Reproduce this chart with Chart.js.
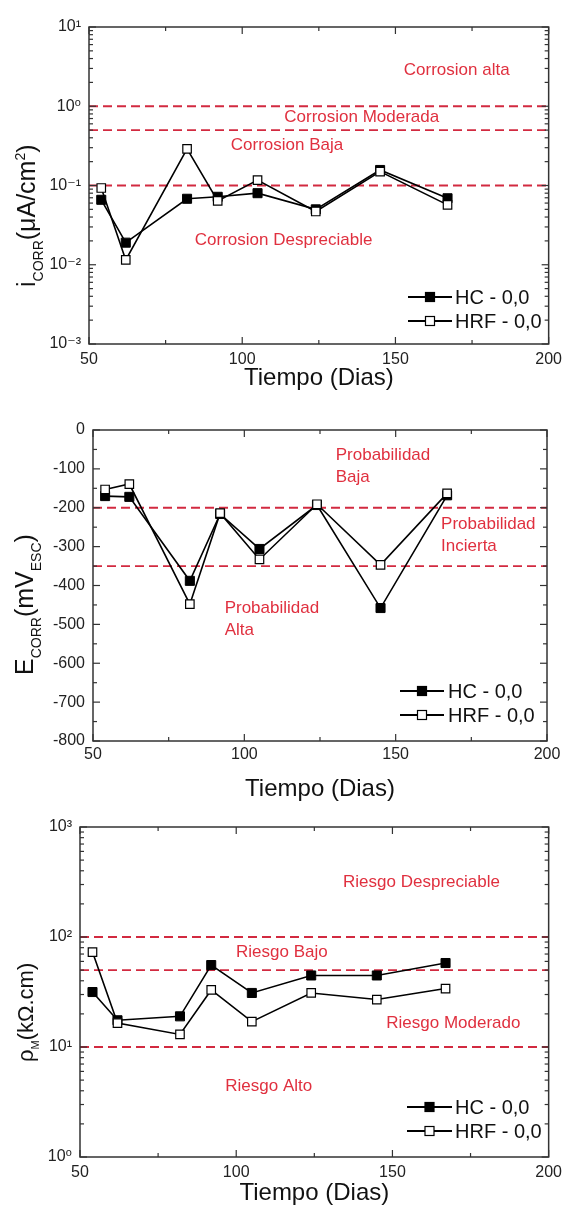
<!DOCTYPE html>
<html>
<head>
<meta charset="utf-8">
<script src="https://cdn.jsdelivr.net/npm/chart.js@4.4.0/dist/chart.umd.min.js"></script>
<style>
html, body { margin: 0; padding: 0; background: #fff; }
body { width: 568px; height: 1205px; position: relative; overflow: hidden; }
canvas { position: absolute; left: 0; }
</style>
</head>
<body>
<canvas id="icorr" width="568" height="400" style="top:0px"></canvas>
<canvas id="ecorr" width="568" height="405" style="top:400px"></canvas>
<canvas id="rho" width="568" height="400" style="top:805px"></canvas>
<script>
// tiempo de exposicion (dias)
var dias = [54, 62, 82, 92, 105, 124, 145, 167];
var series = ['HC - 0,0', 'HRF - 0,0'];

// densidad de corriente de corrosion (uA/cm2)
var icorrHC  = [0.066, 0.019, 0.068, 0.072, 0.080, 0.050, 0.157, 0.069];
var icorrHRF = [0.093, 0.0115, 0.29, 0.064, 0.117, 0.047, 0.150, 0.057];

// potencial de corrosion (mV ESC)
var ecorrHC  = [-170, -172, -388, -216, -306, -193, -458, -168];
var ecorrHRF = [-153, -139, -448, -214, -333, -191, -347, -163];

// resistividad (kOhm.cm)
var rhoHC  = [31.6, 17.5, 19, 55.6, 31, 44.7, 44.7, 58];
var rhoHRF = [73, 16.5, 13, 33, 17, 31, 27, 34];

var xTicks = [50, 100, 150, 200];
var xMinor = [75, 125, 175];
var icorrTicks = [0.001, 0.01, 0.1, 1, 10];
var ecorrTicks = [0, -100, -200, -300, -400, -500, -600, -700, -800];
var ecorrMinor = [-50, -150, -250, -350, -450, -550, -650, -750];
var rhoTicks = [1, 10, 100, 1000];

var icorrLimits = [1, 0.5, 0.1];
var ecorrLimits = [-200, -350];
var rhoLimits = [100, 50, 10];

var icorrZones = ['Corrosion alta', 'Corrosion Moderada', 'Corrosion Baja', 'Corrosion Despreciable'];
var ecorrZones = [['Probabilidad', 'Baja'], ['Probabilidad', 'Incierta'], ['Probabilidad', 'Alta']];
var rhoZones = ['Riesgo Despreciable', 'Riesgo Bajo', 'Riesgo Moderado', 'Riesgo Alto'];

var FONT = "'Liberation Sans', Arial, 'DejaVu Sans', sans-serif";
var RED_LINE = '#d22a40';
var RED_TEXT = '#e0303f';
Chart.defaults.font.family = FONT;

var SUP = {'0': '⁰', '1': '¹', '2': '²', '3': '³', '-': '⁻'};
function pow10(v) {
    var e = String(Math.round(Math.log10(v)));
    return '10' + e.split('').map(function (c) { return SUP[c]; }).join('');
}
function logMinor(ticks) {
    var out = [];
    for (var i = 0; i < ticks.length - 1; i++)
        for (var k = 2; k < 10; k++) out.push(ticks[i] * k);
    return out;
}

function drawRich(ctx, x, y, parts) {
    ctx.save();
    ctx.translate(x, y);
    ctx.rotate(-Math.PI / 2);
    ctx.textAlign = 'left';
    ctx.textBaseline = 'alphabetic';
    ctx.fillStyle = '#111';
    var cx = 0;
    parts.forEach(function (p) {
        ctx.font = p[1] + 'px ' + FONT;
        ctx.fillText(p[0], cx, p[2] || 0);
        cx += ctx.measureText(p[0]).width;
    });
    ctx.restore();
}

function makeChart(id, c) {
    var canvas = document.getElementById(id);
    var H = canvas.height;

    var datasets = [
        {
            label: series[0],
            data: dias.map(function (d, i) { return {x: d, y: c.hc[i]}; }),
            borderColor: '#000', borderWidth: 1.6,
            pointStyle: 'rect', pointRadius: 6.4, pointBorderWidth: 1,
            pointBackgroundColor: '#000', pointBorderColor: '#000',
            order: 1
        },
        {
            label: series[1],
            data: dias.map(function (d, i) { return {x: d, y: c.hrf[i]}; }),
            borderColor: '#000', borderWidth: 1.6,
            pointStyle: 'rect', pointRadius: 6, pointBorderWidth: 1.2,
            pointBackgroundColor: '#fff', pointBorderColor: '#000',
            order: 0
        }
    ];
    c.limits.forEach(function (v) {
        datasets.push({
            label: 'limite',
            data: [{x: 50, y: v}, {x: 200, y: v}],
            borderColor: RED_LINE, borderWidth: 1.8, borderDash: [9, 5],
            pointRadius: 0, order: 2
        });
    });

    var extras = {
        id: 'extras_' + id,
        beforeDatasetsDraw: function (chart) {
            var ctx = chart.ctx, xs = chart.scales.x, ys = chart.scales.y;
            ctx.save();
            ctx.fillStyle = RED_TEXT;
            ctx.font = '17px ' + FONT;
            ctx.textBaseline = 'middle';
            c.zones.forEach(function (z) {
                ctx.textAlign = z.align || 'center';
                var px = xs.getPixelForValue(z.x), py = ys.getPixelForValue(z.y);
                var lines = [].concat(z.text);
                lines.forEach(function (t, k) { ctx.fillText(t, px, py + k * 22); });
            });
            ctx.restore();
        },
        afterDraw: function (chart) {
            var ctx = chart.ctx, a = chart.chartArea, xs = chart.scales.x, ys = chart.scales.y;
            ctx.save();
            // marco y marcas interiores
            ctx.strokeStyle = '#333';
            ctx.lineWidth = 1.5;
            ctx.strokeRect(a.left, a.top, a.right - a.left, a.bottom - a.top);
            function seg(x1, y1, x2, y2) { ctx.beginPath(); ctx.moveTo(x1, y1); ctx.lineTo(x2, y2); ctx.stroke(); }
            ctx.lineWidth = 1.2;
            xTicks.forEach(function (v) { var p = xs.getPixelForValue(v); seg(p, a.bottom, p, a.bottom - 7); seg(p, a.top, p, a.top + 7); });
            xMinor.forEach(function (v) { var p = xs.getPixelForValue(v); seg(p, a.bottom, p, a.bottom - 4); seg(p, a.top, p, a.top + 4); });
            c.majors.forEach(function (v) { var p = ys.getPixelForValue(v); seg(a.left, p, a.left + 7, p); seg(a.right, p, a.right - 7, p); });
            c.minors.forEach(function (v) { var p = ys.getPixelForValue(v); seg(a.left, p, a.left + 4, p); seg(a.right, p, a.right - 4, p); });

            // leyenda
            var L = c.legend;
            [0, 1].forEach(function (i) {
                var y = L.y[i], mx = (L.x1 + L.x2) / 2, s = 9;
                ctx.strokeStyle = '#000';
                ctx.lineWidth = 2;
                seg(L.x1, y, L.x2, y);
                ctx.fillStyle = i === 0 ? '#000' : '#fff';
                ctx.fillRect(mx - s / 2, y - s / 2, s, s);
                ctx.lineWidth = 1.2;
                ctx.strokeRect(mx - s / 2, y - s / 2, s, s);
                ctx.fillStyle = '#111';
                ctx.font = '20px ' + FONT;
                ctx.textAlign = 'left';
                ctx.textBaseline = 'middle';
                ctx.fillText(chart.data.datasets[i].label, L.tx, y + 1);
            });
            ctx.restore();

            // titulo del eje y
            drawRich(ctx, c.ytitle.x, c.ytitle.y, c.ytitle.parts);
        }
    };

    return new Chart(canvas, {
        type: 'line',
        data: {datasets: datasets},
        options: {
            responsive: false,
            animation: false,
            events: [],
            layout: {padding: {top: c.plot.top, right: 568 - c.plot.right, left: 0, bottom: 0}},
            plugins: {legend: {display: false}, tooltip: {enabled: false}},
            scales: {
                x: {
                    type: 'linear', min: 50, max: 200,
                    afterBuildTicks: function (s) { s.ticks = xTicks.map(function (v) { return {value: v}; }); },
                    afterFit: function (s) { s.height = H - c.plot.bottom; },
                    grid: {display: false, drawTicks: false},
                    border: {display: false},
                    ticks: {color: '#222', font: {size: 16}, padding: c.xPad, maxRotation: 0, autoSkip: false},
                    title: {display: true, text: 'Tiempo (Dias)', color: '#111',
                        font: {size: 24, lineHeight: 1}, padding: {top: 0, bottom: c.titlePad}}
                },
                y: {
                    type: c.type, min: c.min, max: c.max,
                    afterBuildTicks: function (s) { s.ticks = c.majors.map(function (v) { return {value: v}; }); },
                    afterFit: function (s) { s.width = c.plot.left; },
                    grid: {display: false, drawTicks: false},
                    border: {display: false},
                    ticks: {color: '#222', font: {size: 16}, padding: 8, autoSkip: false, callback: c.fmt}
                }
            }
        },
        plugins: [extras]
    });
}

makeChart('icorr', {
    type: 'logarithmic', min: 0.001, max: 10,
    hc: icorrHC, hrf: icorrHRF, limits: icorrLimits,
    majors: icorrTicks, minors: logMinor(icorrTicks), fmt: pow10,
    plot: {left: 89, right: 553, top: 27, bottom: 344},
    xPad: 6, titlePad: 10,
    zones: [
        {text: icorrZones[0], x: 170, y: 2.87},
        {text: icorrZones[1], x: 139, y: 0.73},
        {text: icorrZones[2], x: 114.6, y: 0.324},
        {text: icorrZones[3], x: 113.5, y: 0.0205}
    ],
    legend: {x1: 408, x2: 452, tx: 455, y: [297, 321]},
    ytitle: {x: 35, y: 287, parts: [['i', 25], ['CORR', 14, 8], ['(μA/cm', 25], ['2', 14, -10], [')', 25]]}
});

makeChart('ecorr', {
    type: 'linear', min: -800, max: 0,
    hc: ecorrHC, hrf: ecorrHRF, limits: ecorrLimits,
    majors: ecorrTicks, minors: ecorrMinor, fmt: function (v) { return String(v); },
    plot: {left: 93, right: 547, top: 30, bottom: 341},
    xPad: 4, titlePad: 4,
    zones: [
        {text: ecorrZones[0], x: 130.2, y: -64, align: 'left'},
        {text: ecorrZones[1], x: 165, y: -242, align: 'left'},
        {text: ecorrZones[2], x: 93.5, y: -458, align: 'left'}
    ],
    legend: {x1: 400, x2: 444, tx: 448, y: [291, 315]},
    ytitle: {x: 33, y: 275, parts: [['E', 25], ['CORR', 14, 8], ['(mV', 25], ['ESC', 14, 8], [')', 25]]}
});

makeChart('rho', {
    type: 'logarithmic', min: 1, max: 1000,
    hc: rhoHC, hrf: rhoHRF, limits: rhoLimits,
    majors: rhoTicks, minors: logMinor(rhoTicks), fmt: pow10,
    plot: {left: 80, right: 550, top: 22, bottom: 352},
    xPad: 6, titlePad: 0,
    zones: [
        {text: rhoZones[0], x: 159.3, y: 316},
        {text: rhoZones[1], x: 114.6, y: 73},
        {text: rhoZones[2], x: 169.5, y: 16.5},
        {text: rhoZones[3], x: 110.4, y: 4.42}
    ],
    legend: {x1: 407, x2: 452, tx: 455, y: [302, 326]},
    ytitle: {x: 33, y: 257, parts: [['ρ', 22], ['M', 11, 6], ['(kΩ.cm)', 22]]}
});
</script>
</body>
</html>
